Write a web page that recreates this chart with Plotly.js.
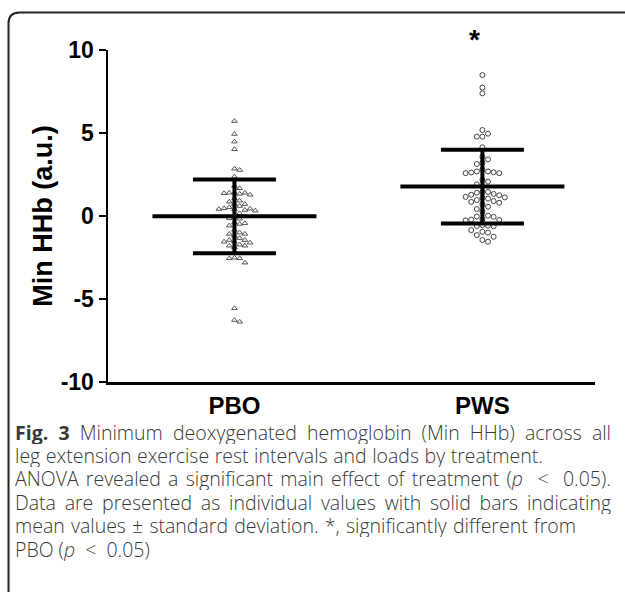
<!DOCTYPE html>
<html>
<head>
<meta charset="utf-8">
<script src="https://cdn.plot.ly/plotly-3.0.1.min.js"></script>
<style>
  html, body { margin: 0; padding: 0; background: #fff; }
  #chart { width: 625px; height: 592px; }
</style>
</head>
<body>
<div id="chart"></div>
<script>
// ---- data ----
const categories = ['PBO', 'PWS'];
const pboValues = [5.72, 4.94, 4.48, 4.02, 2.85, 2.77, 2.37, 1.81, 1.67, 1.40, 1.40, 1.40, 1.37, 1.33, 1.28,
  1.06, 0.92, 0.86, 0.72, 0.72, 0.60, 0.52, 0.46, 0.44, 0.42, 0.40, 0.36, 0.32, 0.16, -0.04, -0.14, -0.16,
  -0.40, -0.44, -0.48, -0.58, -0.84, -1.00, -1.08, -1.08, -1.20, -1.33, -1.45, -1.45, -1.55, -1.55, -1.61,
  -1.73, -1.79, -1.79, -1.89, -2.51, -2.55, -2.55, -2.81, -5.56, -6.27, -6.37];
const pwsValues = [8.49, 7.73, 7.39, 5.18, 4.96, 4.78, 4.78, 4.14, 3.57, 3.41, 3.21, 3.13, 2.80, 2.68, 2.68,
  2.64, 2.62, 2.58, 2.58, 2.17, 2.07, 1.91, 1.45, 1.45, 1.40, 1.33, 1.28, 1.25, 1.15, 1.12, 1.10, 1.05,
  0.96, 0.90, 0.85, 0.80, 0.70, 0.56, 0.42, 0.26, 0.02, -0.03, -0.05, -0.20, -0.22, -0.24, -0.26, -0.55,
  -0.58, -0.60, -0.62, -0.85, -0.95, -1.00, -1.15, -1.25, -1.45, -1.55];
const means = [-0.02, 1.77];
const sds = [2.22, 2.22];
const yTickVals = [-10, -5, 0, 5, 10];
const yTickText = ['-10', '-5', '0', '5', '10'];
const yTitle = 'Min HHb (a.u.)';
const sigMarks = ['', '*'];
const captionLines = [
  '<b>Fig. 3</b> Minimum deoxygenated hemoglobin (Min HHb) across all',
  'leg extension exercise rest intervals and loads by treatment.',
  'ANOVA revealed a significant main effect of treatment (<i>p</i>&nbsp;&nbsp;&lt;&nbsp;&nbsp;0.05).',
  'Data are presented as individual values with solid bars indicating',
  'mean values ± standard deviation. *, significantly different from',
  'PBO (<i>p</i>&nbsp;&nbsp;&lt;&nbsp;&nbsp;0.05)'
];
// right edge (px) each caption line reaches in the reference (0 = natural width)
const captionLineEnds = [611, 543, 611, 611, 576, 0];

// ---- layout constants (pixels) ----
const W = 625, H = 592;
const M = {l: 108, r: 30, t: 50, b: 210};
const plotW = W - M.l - M.r, plotH = H - M.t - M.b;
const xRange = [-0.51, 1.454];
const yRange = [-10, 10];
const pxPerX = plotW / (xRange[1] - xRange[0]);
const pxPerY = plotH / (yRange[1] - yRange[0]);

// simple beeswarm: horizontal offsets so markers do not overlap
function swarm(vals, center, dPx) {
  const order = vals.map((v, i) => i).sort((a, b) => vals[b] - vals[a]);
  const placed = [];
  const xs = new Array(vals.length);
  for (const i of order) {
    const yp = vals[i] * pxPerY;
    let k = 0, off = 0;
    while (true) {
      const cand = k === 0 ? 0 : (k % 2 === 1 ? 1 : -1) * Math.ceil(k / 2) * dPx;
      const ok = placed.every(p => Math.hypot(p.x - cand, p.y - yp) >= dPx - 0.01);
      if (ok) { off = cand; break; }
      k++;
    }
    placed.push({x: off, y: yp});
    xs[i] = center + off / pxPerX;
  }
  return xs;
}

const traces = [];
traces.push({
  type: 'scatter', mode: 'markers',
  x: swarm(pboValues, 0, 5.2), y: pboValues,
  marker: {symbol: 'triangle-up-open', size: 5, color: '#555', line: {width: 1, color: '#555'}},
  hoverinfo: 'y', showlegend: false
});
traces.push({
  type: 'scatter', mode: 'markers',
  x: swarm(pwsValues, 1, 5.6), y: pwsValues,
  marker: {symbol: 'circle-open', size: 5, color: '#444', line: {width: 1, color: '#444'}},
  hoverinfo: 'y', showlegend: false
});

// mean and SD bars
const meanHalf = 82 / pxPerX, capHalf = 41.5 / pxPerX;
categories.forEach((c, i) => {
  const m = means[i], s = sds[i];
  const lineStyle = {color: '#000', width: 4};
  traces.push({type: 'scatter', mode: 'lines', x: [i - meanHalf, i + meanHalf], y: [m, m], line: lineStyle, hoverinfo: 'skip', showlegend: false});
  traces.push({type: 'scatter', mode: 'lines', x: [i - capHalf, i + capHalf], y: [m + s, m + s], line: lineStyle, hoverinfo: 'skip', showlegend: false});
  traces.push({type: 'scatter', mode: 'lines', x: [i - capHalf, i + capHalf], y: [m - s, m - s], line: lineStyle, hoverinfo: 'skip', showlegend: false});
  traces.push({type: 'scatter', mode: 'lines', x: [i, i], y: [m - s, m + s], line: lineStyle, hoverinfo: 'skip', showlegend: false});
});

// border (rounded frame) in paper coords
const px2x = p => (p - M.l) / plotW;
const py2y = p => (H - M.b - p) / plotH;
const xToPaper = v => (v - xRange[0]) / (xRange[1] - xRange[0]);
const bl = px2x(8.5), bt = py2y(12.5), br = px2x(650), bb = py2y(610);
const rx = 11 / plotW, ry = 11 / plotH;
const borderPath = `M ${bl},${bb} L ${bl},${bt - ry} Q ${bl},${bt} ${bl + rx},${bt} L ${br},${bt}`;

const annotations = [];
sigMarks.forEach((s, i) => {
  if (!s) return;
  annotations.push({x: xToPaper(i), y: py2y(39), xref: 'paper', yref: 'paper', yanchor: 'middle',
    text: s, showarrow: false,
    font: {family: 'Liberation Sans, Arial, sans-serif', size: 28, weight: 'bold', color: '#000'}});
});
const captionStart = annotations.length;
captionLines.forEach((t, k) => {
  annotations.push({
    x: px2x(14), y: py2y(432 + k * 23.4), xref: 'paper', yref: 'paper', xanchor: 'left', yanchor: 'middle', align: 'left',
    text: t, showarrow: false, width: 608, height: 23, borderpad: 0,
    font: {family: 'Open Sans, Noto Sans, sans-serif', size: 19.5, weight: 300, color: '#383838'}
  });
});

const layout = {
  width: W, height: H,
  margin: M,
  paper_bgcolor: '#fff', plot_bgcolor: '#fff',
  showlegend: false,
  xaxis: {
    range: xRange, tickvals: [0, 1], ticktext: categories,
    showgrid: false, zeroline: false, showline: true, linecolor: '#000', linewidth: 3,
    ticks: '', ticklabelstandoff: 0,
    tickfont: {family: 'Liberation Sans, Arial, sans-serif', size: 24, weight: 'bold', color: '#000'}
  },
  yaxis: {
    range: yRange, tickvals: yTickVals, ticktext: yTickText,
    showgrid: false, zeroline: false, showline: true, linecolor: '#000', linewidth: 2.5,
    ticks: 'outside', ticklen: 7, tickwidth: 2.5, tickcolor: '#000',
    tickfont: {family: 'Liberation Sans, Arial, sans-serif', size: 23, weight: 'bold', color: '#000'},
    title: {text: yTitle, standoff: 0, font: {family: 'Liberation Sans, Arial, sans-serif', size: 27, weight: 'bold', color: '#000'}}
  },
  shapes: [{type: 'path', xref: 'paper', yref: 'paper', path: borderPath, line: {color: '#222', width: 2}}],
  annotations: annotations
};

Plotly.newPlot('chart', traces, layout, {staticPlot: true, displayModeBar: false}).then(gd => {
  // spread the caption words so each line ends where it ends in the reference
  gd.querySelectorAll('g.annotation').forEach(g => {
    const idx = +g.getAttribute('data-index') - captionStart;
    if (idx < 0 || idx >= captionLineEnds.length) return;
    const txt = g.querySelector('text.annotation-text');
    if (!txt) return;
    const r = txt.getBoundingClientRect();
    const gaps = (txt.textContent.match(/[ \u00a0]/g) || []).length;
    const target = captionLineEnds[idx];
    if (target > 0 && gaps > 0 && r.right < target) {
      txt.style.wordSpacing = ((target - r.right) / gaps).toFixed(2) + 'px';
    }
  });
});
</script>
</body>
</html>
